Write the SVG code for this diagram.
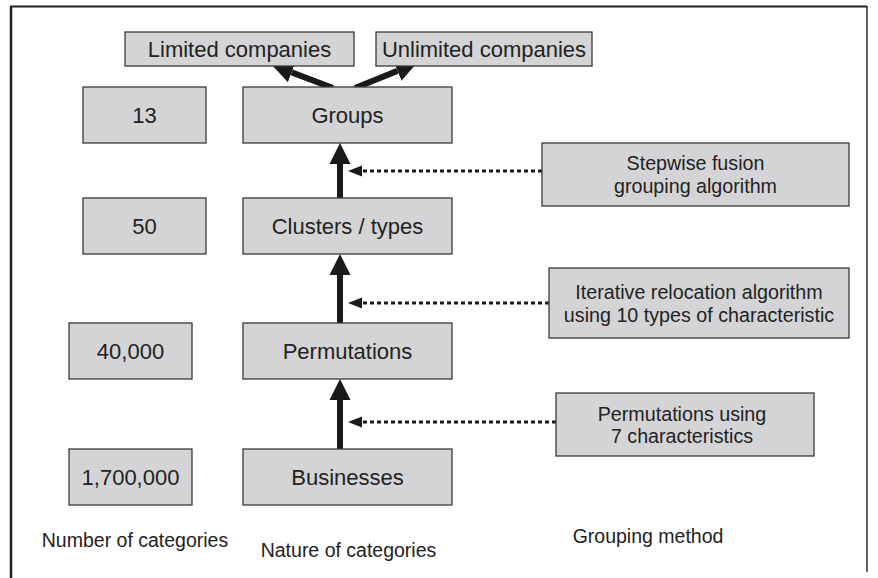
<svg xmlns="http://www.w3.org/2000/svg" width="878" height="578" viewBox="0 0 878 578">
<style>
.box{fill:#d4d4d6;stroke:#3a3a3a;stroke-width:1.3}
.t{font-family:"Liberation Sans",Arial,sans-serif;fill:#222;text-anchor:middle}
.big{font-size:22px}
.med{font-size:19.7px}
.lab{font-size:19.5px}
.thick{stroke:#1a1a1a;stroke-width:6;fill:none}
.dot{stroke:#1a1a1a;stroke-width:3;stroke-dasharray:4 3;fill:none}
</style>
<defs>
<marker id="ah" markerUnits="userSpaceOnUse" markerWidth="22" markerHeight="22" refX="0" refY="10.5" orient="auto" viewBox="0 0 22 21">
<path d="M0,0 L21,10.5 L0,21 z" fill="#1a1a1a"/>
</marker>
<marker id="sh" markerUnits="userSpaceOnUse" markerWidth="15" markerHeight="12" refX="0" refY="5.5" orient="auto" viewBox="0 0 15 11">
<path d="M0,0 L14,5.5 L0,11 z" fill="#1a1a1a"/>
</marker>
</defs>
<rect width="878" height="578" fill="#fff"/>
<g id="frame">
<line x1="11" y1="6" x2="11" y2="578" stroke="#222" stroke-width="2.5"/>
<line x1="10" y1="6.5" x2="867" y2="6.5" stroke="#222" stroke-width="2"/>
<line x1="867" y1="6" x2="867" y2="572" stroke="#333" stroke-width="1.5"/>
</g>
<g id="connectors">
<line class="thick" x1="340" y1="449" x2="340" y2="400" marker-end="url(#ah)"/>
<line class="thick" x1="340" y1="323" x2="340" y2="275" marker-end="url(#ah)"/>
<line class="thick" x1="340" y1="198" x2="340" y2="164" marker-end="url(#ah)"/>
<line class="thick" x1="333" y1="88" x2="291.6" y2="72.4" marker-end="url(#ah)"/>
<line class="thick" x1="355" y1="88" x2="397.5" y2="70.9" marker-end="url(#ah)"/>
<line class="dot" x1="542" y1="171" x2="362" y2="171" marker-end="url(#sh)"/>
<line class="dot" x1="549" y1="303" x2="362" y2="303" marker-end="url(#sh)"/>
<line class="dot" x1="556" y1="422" x2="362" y2="422" marker-end="url(#sh)"/>
</g>
<g id="limited"><rect class="box" x="125" y="32" width="229" height="34"/><text class="t big" x="239.5" y="57">Limited companies</text></g>
<g id="unlimited"><rect class="box" x="376" y="32" width="216" height="34"/><text class="t big" x="484" y="57">Unlimited companies</text></g>
<g id="n13"><rect class="box" x="83" y="87" width="123" height="56"/><text class="t big" x="144.5" y="123">13</text></g>
<g id="groups"><rect class="box" x="243" y="87" width="209" height="56"/><text class="t big" x="347.5" y="123">Groups</text></g>
<g id="stepwise"><rect class="box" x="542" y="143" width="307" height="63"/><text class="t med" x="695.5" y="170">Stepwise fusion</text><text class="t med" x="695.5" y="193">grouping algorithm</text></g>
<g id="n50"><rect class="box" x="83" y="198" width="123" height="56"/><text class="t big" x="144.5" y="234">50</text></g>
<g id="clusters"><rect class="box" x="243" y="198" width="209" height="56"/><text class="t big" x="347.5" y="234">Clusters / types</text></g>
<g id="iterative"><rect class="box" x="549" y="268" width="300" height="70"/><text class="t med" x="699" y="299">Iterative relocation algorithm</text><text class="t med" x="699" y="322">using 10 types of characteristic</text></g>
<g id="n40000"><rect class="box" x="69" y="323" width="123" height="56"/><text class="t big" x="130.5" y="359">40,000</text></g>
<g id="permutations"><rect class="box" x="243" y="323" width="209" height="56"/><text class="t big" x="347.5" y="359">Permutations</text></g>
<g id="permusing"><rect class="box" x="556" y="393" width="258" height="63"/><text class="t med" x="682" y="421">Permutations using</text><text class="t med" x="682" y="443">7 characteristics</text></g>
<g id="n1700000"><rect class="box" x="69" y="449" width="123" height="56"/><text class="t big" x="130.5" y="485">1,700,000</text></g>
<g id="businesses"><rect class="box" x="243" y="449" width="209" height="56"/><text class="t big" x="347.5" y="485">Businesses</text></g>
<g id="labels">
<text class="t lab" x="135" y="547">Number of categories</text>
<text class="t lab" x="348.5" y="557">Nature of categories</text>
<text class="t lab" x="648" y="543">Grouping method</text>
</g>
</svg>
